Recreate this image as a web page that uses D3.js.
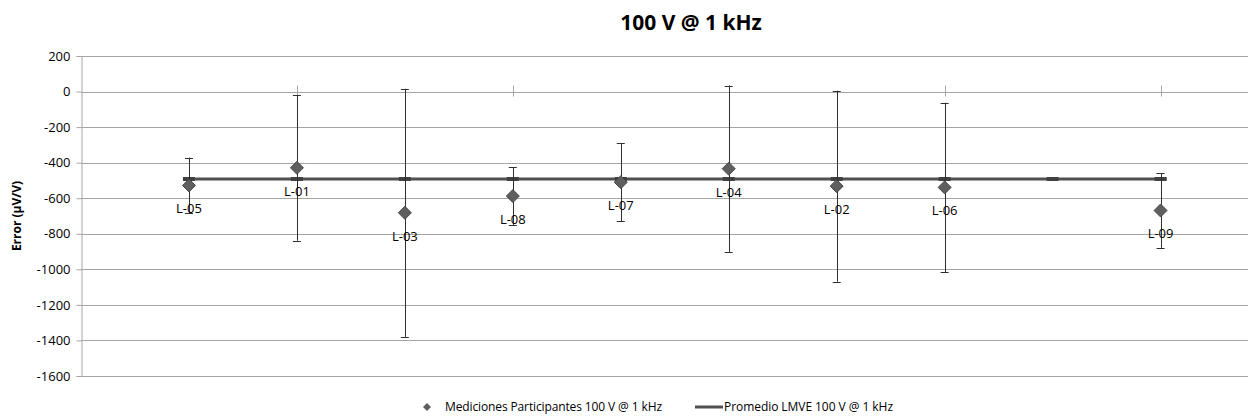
<!DOCTYPE html>
<html>
  <head>
    <script src="https://d3js.org/d3.v7.min.js" charset="utf-8"></script>
    <meta charset="UTF-8">
    <title>100 V @ 1 kHz</title>
    <style>
      body { margin: 0; background: #fff; }
      text { font-family: "Open Sans", "Noto Sans", sans-serif; }
    </style>
  </head>
  <body>
    <svg class="chart"></svg>
    <script type="text/javascript">

     var width = 1248,
         height = 417;

     // participant labs, x position, error (uV/V), expanded uncertainty
     var labs   = ["L-05", "L-01", "L-03", "L-08", "L-07", "L-04", "L-02", "L-06", "L-09"];
     var xPos   = [1, 2, 3, 4, 5, 6, 7, 8, 10];
     var errs   = [-528, -429, -682, -588, -510, -434, -532, -539, -669];
     var uncert = [157, 410, 698, 162, 220, 468, 537, 476, 210];

     // reference mean line
     var meanX = [1, 2, 3, 4, 5, 6, 7, 8, 9, 10];
     var meanValue = -492;

     var yTicks = [200, 0, -200, -400, -600, -800, -1000, -1200, -1400, -1600];
     var xTicks = [2, 4, 6, 8, 10];

     var chart = d3.select(".chart")
                   .attr("width", width)
                   .attr("height", height);

     var x = d3.scaleLinear().domain([0, 10.81]).range([81, 1248]);
     var y = d3.scaleLinear().domain([-1600, 200]).range([376, 56]);

     // gridlines
     chart.append("g")
          .selectAll("line")
          .data(yTicks)
          .enter().append("line")
          .attr("x1", x(0)).attr("x2", width)
          .attr("y1", function(d) { return Math.round(y(d)) + 0.5; })
          .attr("y2", function(d) { return Math.round(y(d)) + 0.5; })
          .attr("stroke", "#a6a6a6")
          .attr("stroke-width", 1);

     // y axis
     var yAxis = d3.axisLeft(y)
                   .tickValues(yTicks)
                   .tickFormat(function(d) { return String(d); })
                   .tickSize(5)
                   .tickPadding(6);
     var yg = chart.append("g")
                   .attr("transform", "translate(" + (Math.round(x(0)) + 0.5) + ",0)")
                   .call(yAxis);
     yg.select(".domain").attr("stroke", "#a6a6a6");
     yg.selectAll(".tick line").attr("stroke", "#a6a6a6");
     yg.selectAll(".tick text")
       .attr("font-size", 13)
       .attr("fill", "#000")
       .style("font-family", "'Open Sans', sans-serif");

     // x axis ticks on the zero line
     chart.append("g")
          .selectAll("line")
          .data(xTicks)
          .enter().append("line")
          .attr("x1", function(d) { return Math.round(x(d)) + 0.5; })
          .attr("x2", function(d) { return Math.round(x(d)) + 0.5; })
          .attr("y1", y(0) - 6).attr("y2", y(0) + 5)
          .attr("stroke", "#a6a6a6");

     // mean line
     chart.append("line")
          .attr("x1", x(1) - 6).attr("x2", x(10) + 6)
          .attr("y1", y(meanValue)).attr("y2", y(meanValue))
          .attr("stroke", "#505050")
          .attr("stroke-width", 3);

     chart.append("g")
          .selectAll("line")
          .data(meanX)
          .enter().append("line")
          .attr("x1", function(d) { return x(d) - 6; })
          .attr("x2", function(d) { return x(d) + 6; })
          .attr("y1", y(meanValue)).attr("y2", y(meanValue))
          .attr("stroke", "#404040")
          .attr("stroke-width", 4);

     // error bars
     var bars = chart.append("g")
                     .selectAll("g")
                     .data(labs)
                     .enter().append("g")
                     .attr("stroke", "#303030")
                     .attr("stroke-width", 1);

     bars.append("line")
         .attr("x1", function(d, i) { return Math.round(x(xPos[i])) + 0.5; })
         .attr("x2", function(d, i) { return Math.round(x(xPos[i])) + 0.5; })
         .attr("y1", function(d, i) { return y(errs[i] + uncert[i]); })
         .attr("y2", function(d, i) { return y(errs[i] - uncert[i]); });

     [1, -1].forEach(function(s) {
         bars.append("line")
             .attr("x1", function(d, i) { return x(xPos[i]) - 4; })
             .attr("x2", function(d, i) { return x(xPos[i]) + 4; })
             .attr("y1", function(d, i) { return Math.round(y(errs[i] + s * uncert[i])) + 0.5; })
             .attr("y2", function(d, i) { return Math.round(y(errs[i] + s * uncert[i])) + 0.5; });
     });

     // diamonds
     chart.append("g")
          .selectAll("path")
          .data(labs)
          .enter().append("path")
          .attr("d", "M0,-6.5L6.5,0L0,6.5L-6.5,0Z")
          .attr("transform", function(d, i) {
              return "translate(" + x(xPos[i]) + "," + y(errs[i]) + ")"; })
          .attr("fill", "#5f5f5f")
          .attr("stroke", "#474747")
          .attr("stroke-width", 1);

     // point labels
     chart.append("g")
          .selectAll("text")
          .data(labs)
          .enter().append("text")
          .attr("x", function(d, i) { return x(xPos[i]); })
          .attr("y", function(d, i) { return y(errs[i]) + 28; })
          .attr("text-anchor", "middle")
          .attr("font-size", 13)
          .attr("fill", "#000")
          .text(function(d) { return d; });

     // title
     chart.append("text")
          .attr("x", 691).attr("y", 30)
          .attr("text-anchor", "middle")
          .attr("font-size", 21)
          .attr("font-weight", "bold")
          .text("100 V @ 1 kHz");

     // y axis title
     chart.append("text")
          .attr("transform", "translate(21,216) rotate(-90)")
          .attr("text-anchor", "middle")
          .attr("font-size", 12)
          .attr("font-weight", "bold")
          .text("Error (µV/V)");

     // legend
     var legend = chart.append("g").attr("transform", "translate(0,407)");
     legend.append("path")
           .attr("d", "M0,-4L4,0L0,4L-4,0Z")
           .attr("transform", "translate(427,0)")
           .attr("fill", "#5f5f5f");
     legend.append("text")
           .attr("x", 445).attr("y", 4)
           .attr("font-size", 12)
           .attr("textLength", 217)
           .text("Mediciones Participantes 100 V @ 1 kHz");
     legend.append("line")
           .attr("x1", 695).attr("x2", 723)
           .attr("y1", 0).attr("y2", 0)
           .attr("stroke", "#505050")
           .attr("stroke-width", 3);
     legend.append("text")
           .attr("x", 724).attr("y", 4)
           .attr("font-size", 12)
           .attr("textLength", 169)
           .text("Promedio LMVE 100 V @ 1 kHz");

    </script>
  </body>
</html>
